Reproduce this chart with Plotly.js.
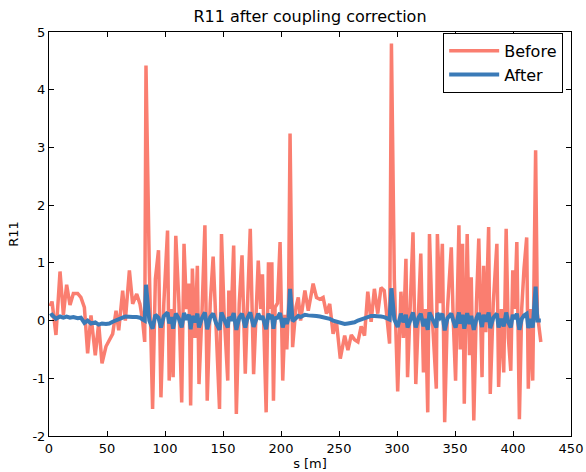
<!DOCTYPE html>
<html>
<head>
<meta charset="utf-8">
<script src="https://cdn.plot.ly/plotly-3.0.1.min.js"></script>
<style>html,body{margin:0;padding:0;background:#fff;}#chart{width:586px;height:472px;}</style>
</head>
<body>
<div id="chart"></div>
<script>
// Longitudinal position s [m]
const s = [
  1.0, 2.6, 6.0, 9.5, 12.4, 15.2, 18.1, 21.0, 24.7, 27.5, 30.5, 33.3, 36.2, 39.9, 42.8, 45.7, 49.1, 52.0, 54.9, 57.8,
  60.1, 63.5, 65.8, 69.3, 72.1, 75.6, 78.4, 80.7, 82.5,
  83.6, 86.5, 89.3, 91.7, 94.4, 96.5, 99.0, 102.2, 103.6, 105.5, 107.0, 109.3, 112.0, 114.4, 116.4, 118.5, 120.7, 122.1,
  123.6, 125.8, 127.9, 129.3, 132.0, 134.4, 136.4, 139.0, 141.5, 144.0, 147.0, 148.7, 151.0, 154.1, 155.0, 157.0, 159.2,
  161.5, 164.0, 166.4, 169.2, 171.0, 173.5, 176.4, 180.4, 182.5, 184.0, 187.2, 189.2, 190.6, 192.1, 193.5, 194.9, 197.0,
  199.2, 201.5, 203.5, 205.0, 206.5, 207.8, 210.0,
  212.9, 214.9, 216.9, 220.6, 223.5, 227.7, 230.6, 233.5, 236.3, 239.2, 242.0, 244.9, 247.7, 251.1, 254.9, 257.7, 260.6,
  263.4, 266.3, 269.1, 272.0, 274.8, 277.7, 280.5, 283.4, 286.2, 289.0, 291.4, 293.6, 295.2,
  297.7, 300.6, 303.4, 305.5, 307.7, 309.1, 311.5, 313.8, 316.2, 318.5, 320.5, 322.8, 324.5, 326.5, 328.0, 330.0, 333.9,
  334.8, 337.0, 339.1, 341.1, 343.5, 346.8, 348.5, 350.5, 353.4, 354.5, 356.5, 358.0, 360.5, 362.5, 364.0, 366.2, 368.5,
  370.5, 373.3, 374.7, 376.5, 379.0, 380.4, 383.0, 386.1, 387.6, 390.0, 392.0, 394.1, 396.0, 398.1, 399.8, 401.5, 403.3,
  405.5, 407.5, 409.5, 411.8, 413.2, 415.0, 417.0, 419.5, 421.0, 424.0
];

// R11 before coupling correction
const before = [
  0.25, 0.33, -0.25, 0.85, 0.10, 0.62, 0.27, 0.47, 0.47, 0.40, 0.23, -0.57, 0.09, -0.60, -0.05, -0.74, -0.45, -0.35, -0.23, 0.17,
  -0.17, 0.52, 0.00, 0.87, 0.29, 0.46, 0.29, 0.00, -0.37,
  4.42, 0.87, -1.53, 0.72, 1.22, -1.33, 0.30, 1.56, -1.04, 0.20, -0.98, 1.47, 0.30, -1.42, 1.33, 0.20, 0.64, -1.47,
  0.90, -0.30, 0.95, -1.10, 0.20, 1.65, -1.39, 0.30, 1.11, -0.20, -1.53, 1.50, 0.10, -1.04, 0.52, 0.00, 1.30,
  -1.62, 0.30, 1.13, -0.92, 0.20, 1.59, -0.93, 1.04, 0.20, 0.80, -1.59, 1.01, 0.20, 1.01, -1.39, 0.23, 0.30,
  1.36, -1.04, 0.10, -0.50, 0.30, 3.24, -0.46,
  0.23, 0.40, 0.00, 0.52, 0.17, 0.64, 0.40, 0.37, 0.40, 0.12, 0.29, -0.23, 0.00, -0.66, -0.26, -0.51, -0.25,
  -0.33, -0.37, -0.10, -0.26, 0.50, -0.02, 0.55, 0.12, 0.57, 0.52, 0.10, -0.40, 4.80,
  0.72, -1.23, 0.50, -0.30, 1.07, -0.98, 0.20, 1.53, -1.10, 0.30, 1.16, -0.90, 0.20, -1.59, 1.50, 0.20, -1.18,
  1.50, 0.30, 1.33, -1.76, 0.20, 1.27, 0.00, -1.04, 1.65, -0.50, 1.33, -1.44, 1.50, -0.60, 0.75, -1.73, 0.30,
  1.42, -0.98, 0.95, -0.20, 1.62, -1.27, 0.30, 1.33, -1.15, 0.20, -0.90, 1.59, -0.30, -0.87, 0.87, 0.20, 1.36,
  -1.71, 0.20, 0.90, 1.44, -1.18, 0.20, -1.04, 2.95, 0.12, -0.37
];

// R11 after coupling correction
const after = [
  0.08, 0.10, 0.03, 0.07, 0.05, 0.07, 0.05, 0.06, 0.04, 0.05, -0.04, 0.00, -0.05, -0.03, -0.07, -0.05, -0.06, -0.05, -0.02, 0.01,
  0.03, 0.05, 0.07, 0.06, 0.06, 0.06, 0.05, 0.02, 0.00,
  0.62, 0.00, -0.14, 0.10, 0.05, -0.12, 0.08, 0.14, -0.05, 0.06, -0.14, 0.12, 0.03, -0.12, 0.13, 0.02, 0.10, -0.15,
  0.08, -0.03, 0.12, -0.12, 0.05, 0.14, -0.15, 0.06, 0.12, -0.04, -0.16, 0.14, 0.02, -0.12, 0.06, 0.00, 0.13,
  -0.16, 0.05, 0.12, -0.12, 0.04, 0.14, -0.11, 0.12, 0.02, 0.08, -0.15, 0.12, 0.03, 0.10, -0.14, 0.04, 0.05,
  0.13, -0.12, 0.04, -0.06, 0.05, 0.55, -0.01,
  0.05, 0.08, 0.06, 0.10, 0.09, 0.09, 0.08, 0.07, 0.06, 0.05, 0.03, 0.00, -0.02, -0.05, -0.06, -0.05, -0.04,
  -0.03, 0.00, 0.02, 0.05, 0.07, 0.08, 0.08, 0.08, 0.07, 0.06, 0.04, 0.02, 0.56,
  0.02, -0.11, 0.12, -0.03, 0.10, -0.12, 0.04, 0.14, -0.12, 0.05, 0.12, -0.10, 0.03, -0.16, 0.14, 0.04, -0.12,
  0.13, 0.05, 0.12, -0.17, 0.04, 0.12, 0.00, -0.12, 0.14, -0.05, 0.10, -0.14, 0.13, -0.06, 0.08, -0.16, 0.04,
  0.13, -0.11, 0.10, -0.02, 0.14, -0.13, 0.05, 0.12, -0.12, 0.03, -0.10, 0.14, -0.03, -0.12, 0.10, 0.03, 0.12,
  -0.16, 0.03, 0.09, 0.12, -0.13, 0.03, -0.12, 0.59, 0.00, 0.00
];

const seriesNames = ['Before', 'After'];
const xTicks = [0, 50, 100, 150, 200, 250, 300, 350, 400, 450];
const yTicks = [-2, -1, 0, 1, 2, 3, 4, 5];

const FONT = 'DejaVu Sans, Liberation Sans, sans-serif';

const traces = [
  {x: s, y: before, name: seriesNames[0], type: 'scatter', mode: 'lines',
   line: {color: '#fa7e70', width: 3.5}},
  {x: s, y: after, name: seriesNames[1], type: 'scatter', mode: 'lines',
   line: {color: '#3a7ab7', width: 4}}
];

const axisCommon = {
  showline: true, linecolor: '#000', linewidth: 1, mirror: 'ticks',
  ticks: 'inside', ticklen: 5, tickcolor: '#000', tickwidth: 1,
  showgrid: false, zeroline: false,
  tickfont: {family: FONT, size: 13, color: '#000'}
};

const layout = {
  width: 586, height: 472,
  margin: {l: 49, r: 15, t: 32, b: 36},
  paper_bgcolor: '#fff', plot_bgcolor: '#fff',
  font: {family: FONT, color: '#000'},
  title: {text: 'R11 after coupling correction', font: {family: FONT, size: 16, color: '#000'},
          x: 0.5, xref: 'paper', xanchor: 'center', y: 0.966, yref: 'container', yanchor: 'middle'},
  xaxis: Object.assign({}, axisCommon, {
    range: [0, 450], tickvals: xTicks, ticktext: xTicks.map(String),
    title: {text: 's [m]', font: {family: FONT, size: 13, color: '#000'}, standoff: 2}
  }),
  yaxis: Object.assign({}, axisCommon, {
    range: [-2, 5], tickvals: yTicks, ticktext: yTicks.map(v => String(v)),
    title: {text: 'R11', font: {family: FONT, size: 13, color: '#000'}, standoff: 10}
  }),
  showlegend: true,
  legend: {x: 0.985, xanchor: 'right', y: 0.998, yanchor: 'top',
           bgcolor: '#fff', bordercolor: '#000', borderwidth: 1, itemwidth: 50,
           font: {family: FONT, size: 16, color: '#000'}}
};

Plotly.newPlot('chart', traces, layout, {displayModeBar: false, staticPlot: true});
</script>
</body>
</html>
